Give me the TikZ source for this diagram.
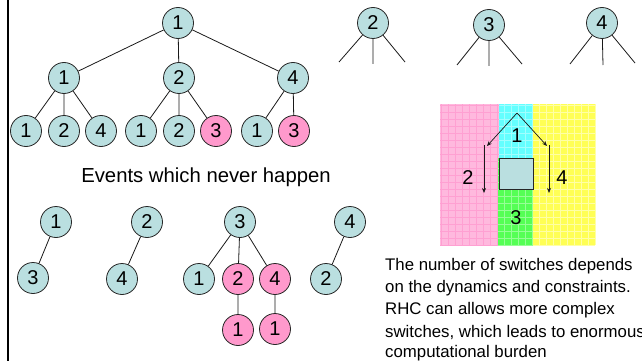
\documentclass[tikz,border=0pt]{standalone}
\usepackage{fontspec}
\setmainfont{Liberation Sans}
\usetikzlibrary{arrows.meta}
\definecolor{nodeteal}{RGB}{186,223,224}
\definecolor{nodepink}{RGB}{255,153,204}
\definecolor{bgpink}{RGB}{255,185,222}
\definecolor{lnpink}{RGB}{255,160,210}
\definecolor{bgcyan}{RGB}{100,255,255}
\definecolor{lncyan}{RGB}{160,255,255}
\definecolor{bggreen}{RGB}{85,255,85}
\definecolor{lngreen}{RGB}{150,255,150}
\definecolor{bgyellow}{RGB}{255,255,85}
\definecolor{lnyellow}{RGB}{255,255,165}
\begin{document}
\begin{tikzpicture}[x=1pt,y=-1pt,
  nd/.style={circle,draw=black!85,line width=0.8pt,fill=nodeteal,minimum size=31pt,inner sep=0pt,font=\fontsize{20}{20}\selectfont},
  pk/.style={nd,fill=nodepink},
  edge/.style={draw=black!90,line width=0.8pt},
  lbl/.style={font=\fontsize{20}{20}\selectfont,inner sep=0pt},
  txt/.style={anchor=west,inner sep=0pt,font=\fontsize{16.8}{16.8}\selectfont},
  arr/.style={draw=black!90,line width=0.7pt,-{Stealth[length=5pt,width=4pt]}}]
\clip (0,0) rectangle (642,361);
\fill[white] (0,0) rectangle (642,361);
\draw[line width=2pt] (8,-2) -- (8,363);

% top tree
\node[nd] (r) at (178,23) {1};
\node[nd] (a1) at (64,78) {1};
\node[nd] (a2) at (179,78) {2};
\node[nd] (a4) at (293,78) {4};
\node[nd] (l1) at (26,131) {1};
\node[nd] (l2) at (64,131) {2};
\node[nd] (l3) at (101,131) {4};
\node[nd] (l4) at (141,131) {1};
\node[nd] (l5) at (179,131) {2};
\node[pk] (l6) at (216,131) {3};
\node[nd] (l7) at (257,131) {1};
\node[pk] (l8) at (294,131) {3};
\path[edge] (r) -- (a1) (r) -- (a2) (r) -- (a4)
  (a1) -- (l1) (a1) -- (l2) (a1) -- (l3)
  (a2) -- (l4) (a2) -- (l5) (a2) -- (l6)
  (a4) -- (l7) (a4) -- (l8);

\node[inner sep=0pt,font=\fontsize{20.3}{20.3}\selectfont] (ev) at (206,177) {Events which never happen};

% bottom trees
\node[nd] (b1) at (56,222) {1};
\node[nd] (b1c) at (33,278) {3};
\node[nd] (b2) at (147,222) {2};
\node[nd] (b2c) at (122,279) {4};
\node[nd] (b3) at (240,222) {3};
\node[nd] (c1) at (199,279) {1};
\node[pk] (c2) at (238,279) {2};
\node[pk] (c3) at (275,279) {4};
\node[pk] (d1) at (238,330) {1};
\node[pk] (d2) at (275,329) {1};
\node[nd] (b4) at (350,222) {4};
\node[nd] (b4c) at (326,279) {2};
\path[edge] (b1) -- (b1c) (b2) -- (b2c)
  (b3) -- (c1) (b3) -- (c2) (b3) -- (c3)
  (c2) -- (d1) (c3) -- (d2) (b4) -- (b4c);

% top right partial trees
\node[nd] (t2) at (373,23) {2};
\coordinate (t2a) at (339,62); \coordinate (t2b) at (373,64); \coordinate (t2c) at (405,62);
\node[nd] (t3) at (489,25) {3};
\coordinate (t3a) at (457,65); \coordinate (t3b) at (489,66); \coordinate (t3c) at (522,64);
\node[nd] (t4) at (602,23) {4};
\coordinate (t4a) at (570,64); \coordinate (t4b) at (603,65); \coordinate (t4c) at (635,63);
\path[edge] (t2) -- (t2a) (t2) -- (t2b) (t2) -- (t2c)
  (t3) -- (t3a) (t3) -- (t3b) (t3) -- (t3c)
  (t4) -- (t4a) (t4) -- (t4b) (t4) -- (t4c);

% coloured regions
\fill[bgpink] (440,104) rectangle (499,245);
\draw[lnpink,line width=0.5pt,step=7pt] (440,104) grid (499,245);
\fill[bgcyan] (499,104) rectangle (533,158);
\draw[lncyan,line width=0.5pt,step=7pt] (499,104) grid (533,158);
\fill[bggreen] (498,158) rectangle (533,245);
\draw[lngreen,line width=0.5pt,step=7pt] (498,158) grid (533,245);
\fill[bgyellow] (533,104) rectangle (595,245);
\draw[lnyellow,line width=0.5pt,step=7pt] (533,104) grid (595,245);
\node[draw=black!85,line width=0.8pt,fill=nodeteal,minimum width=34pt,minimum height=31pt,inner sep=0pt] (box) at (516,173.5) {};

\coordinate (apex) at (517,113);
\coordinate (al) at (487,146);
\coordinate (ar) at (547,146);
\coordinate (v2s) at (484,145); \coordinate (v2e) at (484,193);
\coordinate (v4s) at (549,145); \coordinate (v4e) at (549,193);
\draw[arr] (apex) -- (al);
\draw[arr] (apex) -- (ar);
\draw[arr] (v2s) -- (v2e);
\draw[arr] (v4s) -- (v4e);
\node[lbl] (n1) at (517,136) {1};
\node[lbl] (n2) at (468,178) {2};
\node[lbl] (n4) at (562,178) {4};
\node[lbl] (n3) at (516,218) {3};

% paragraph
\node[txt] (p1) at (385,266) {The number of switches depends};
\node[txt] (p2) at (385,288) {on the dynamics and constraints.};
\node[txt] (p3) at (385,310) {RHC can allows more complex};
\node[txt] (p4) at (385,332) {switches, which leads to enormous};
\node[txt] (p5) at (385,353.5) {computational burden};
\end{tikzpicture}
\end{document}
